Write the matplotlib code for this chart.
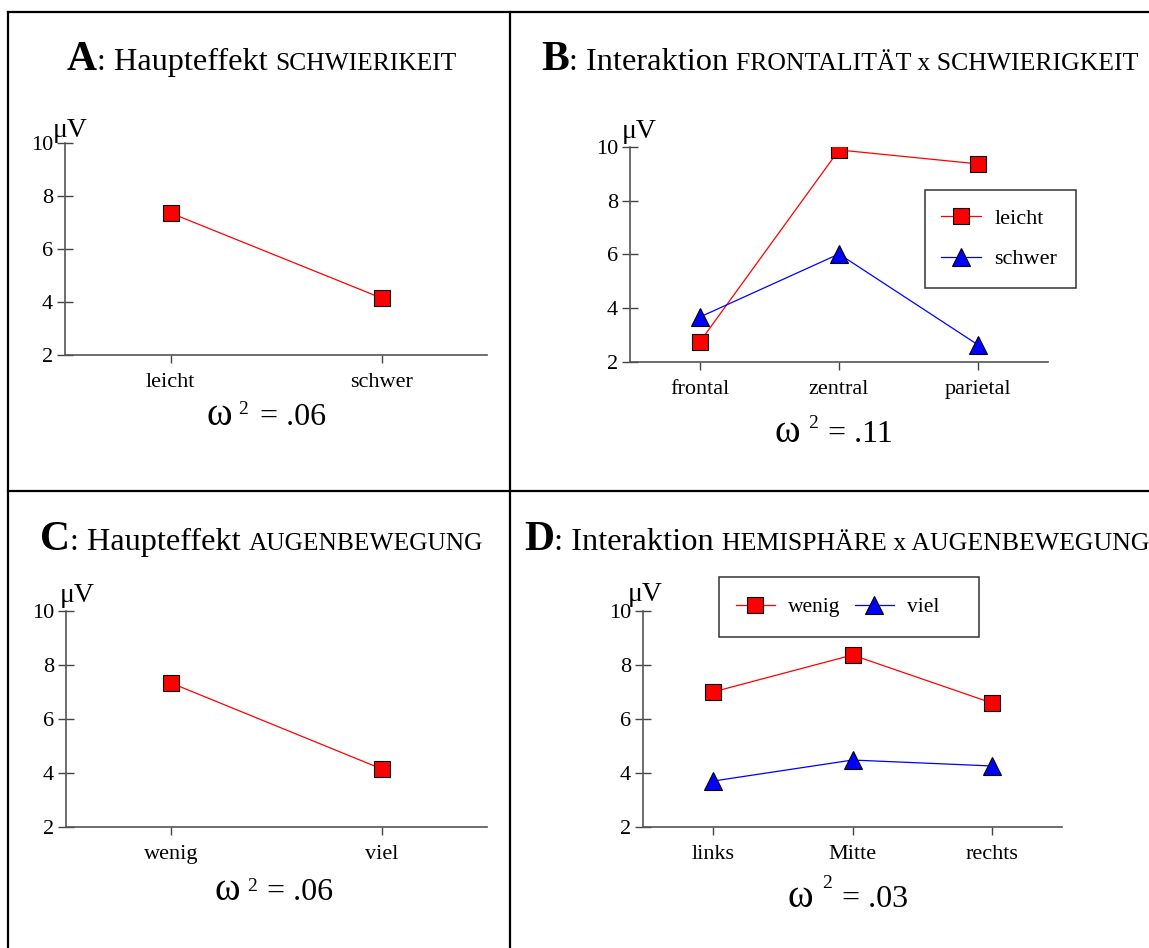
import matplotlib
matplotlib.use("Agg")
import matplotlib.pyplot as plt
from matplotlib.lines import Line2D
from matplotlib.patches import Rectangle

# data
cat_a = ["leicht", "schwer"]
val_a = [7.36, 4.15]

cat_b = ["frontal", "zentral", "parietal"]
leicht_b = [2.74, 9.89, 9.37]
schwer_b = [3.67, 6.02, 2.63]

cat_c = ["wenig", "viel"]
val_c = [7.33, 4.15]

cat_d = ["links", "Mitte", "rechts"]
wenig_d = [7.00, 8.37, 6.59]
viel_d = [3.70, 4.48, 4.26]

yticks = [2, 4, 6, 8, 10]
omega = [".06", ".11", ".06", ".03"]

W, H = 1149, 948
plt.rcParams["font.family"] = ["Liberation Serif", "DejaVu Serif"]

fig = plt.figure(figsize=(W / 100, H / 100), dpi=100)


def fx(x):
    return x / W


def fy(y):
    return 1 - y / H


def make_axes(left, right, top, bottom, cats, fs=16):
    ax = fig.add_axes([fx(left), fy(bottom), (right - left) / W, (bottom - top) / H])
    ax.set_xlim(-0.5, len(cats) - 0.5)
    ax.set_ylim(2, 10)
    ax.set_yticks(yticks)
    ax.set_xticks(range(len(cats)))
    ax.set_xticklabels(cats)
    for s in ["top", "right"]:
        ax.spines[s].set_visible(False)
    for s in ["left", "bottom"]:
        ax.spines[s].set_color("#555555")
        ax.spines[s].set_linewidth(1.2)
    ax.tick_params(axis="y", direction="inout", length=11, width=1, color="#444444",
                   labelsize=fs, pad=3)
    ax.tick_params(axis="x", direction="out", length=6, width=1, color="#444444",
                   labelsize=fs, pad=7)
    ax.patch.set_alpha(0)
    return ax


red = dict(color="#ff0000", lw=0.9, marker="s", ms=11, mfc="#ff0000", mec="black", mew=0.8)
blue = dict(color="#0000ff", lw=0.9, marker="^", ms=13, mfc="#0000ff", mec="black", mew=0.8)

# panel A
ax_a = make_axes(65, 487, 143, 355, cat_a)
ax_a.plot(range(len(cat_a)), val_a, **red)

# panel B
ax_b = make_axes(630, 1048, 147, 362, cat_b)
ax_b.plot(range(len(cat_b)), leicht_b, label="leicht", **red)
ax_b.plot(range(len(cat_b)), schwer_b, label="schwer", **blue)
ax_b.legend(loc="center left", bbox_to_anchor=(fx(941), fy(239)), bbox_transform=fig.transFigure,
            frameon=False, fontsize=16, borderpad=0, borderaxespad=0, handlelength=1.8,
            handletextpad=0.6, labelspacing=0.89, numpoints=1)
fig.patches.append(Rectangle((fx(925), fy(288)), (1076 - 925) / W, (288 - 190) / H,
                             transform=fig.transFigure, fill=False, ec="#333333", lw=1.1))

# panel C
ax_c = make_axes(66, 487, 611, 827, cat_c)
ax_c.plot(range(len(cat_c)), val_c, **red)

# panel D
ax_d = make_axes(643, 1062, 611, 827, cat_d)
ax_d.plot(range(len(cat_d)), wenig_d, label="wenig", **red)
ax_d.plot(range(len(cat_d)), viel_d, label="viel", **blue)
ax_d.legend(loc="center left", bbox_to_anchor=(fx(736), fy(607)), bbox_transform=fig.transFigure,
            frameon=False, fontsize=15.5, borderpad=0, borderaxespad=0, handlelength=1.8,
            handletextpad=0.6, columnspacing=0.7, ncol=2, numpoints=1)
fig.patches.append(Rectangle((fx(719), fy(637)), (979 - 719) / W, (637 - 577) / H,
                             transform=fig.transFigure, fill=False, ec="#333333", lw=1.1))

# frame lines
for xs, ys in [([8, 8], [12, H]), ([8, W], [12, 12]), ([510, 510], [12, H]), ([8, W], [491, 491])]:
    fig.add_artist(Line2D([fx(v) for v in xs], [fy(v) for v in ys], color="black", lw=1.6,
                          transform=fig.transFigure))

renderer = fig.canvas.get_renderer()


def title(x0, y0, letter, main, caps, s1=30, s2=23.2, s3=18.4):
    x = x0
    parts = [(letter, s1, "bold", 0), (": " + main, s2, "normal", s2 * 0.35), (caps, s3, "normal", 0)]
    for txt, size, weight, gap in parts:
        t = fig.text(fx(x), fy(y0), txt, fontsize=size, fontweight=weight, ha="left", va="baseline")
        x += t.get_window_extent(renderer).width + gap


title(67, 70, "A", "Haupteffekt", "SCHWIERIKEIT")
title(541, 70, "B", "Interaktion", "FRONTALITÄT x SCHWIERIGKEIT", 30, 23.3, 18.5)
title(40, 550, "C", "Haupteffekt", "AUGENBEWEGUNG")
title(524, 550, "D", "Interaktion", "HEMISPHÄRE x AUGENBEWEGUNG", 30, 23.4, 18.6)

# micro volt labels
for x, y in [(53, 137), (622, 138), (60, 602), (628, 601)]:
    fig.text(fx(x), fy(y), "μV", fontsize=20, ha="left", va="baseline")

# omega squared
omega_pos = [(207, 238, 414, 260, 425), (774, 808, 428, 828, 442),
             (214, 247, 891, 267, 900), (787, 822, 888, 842, 907)]
for (xw, x2, y2, xe, yb), val in zip(omega_pos, omega):
    fig.text(fx(xw), fy(yb), "ω", fontsize=28, ha="left", va="baseline")
    fig.text(fx(x2), fy(y2), "2", fontsize=14, ha="left", va="baseline")
    fig.text(fx(xe), fy(yb), "= " + val, fontsize=23, ha="left", va="baseline")

fig.savefig("out.png", dpi=100)
